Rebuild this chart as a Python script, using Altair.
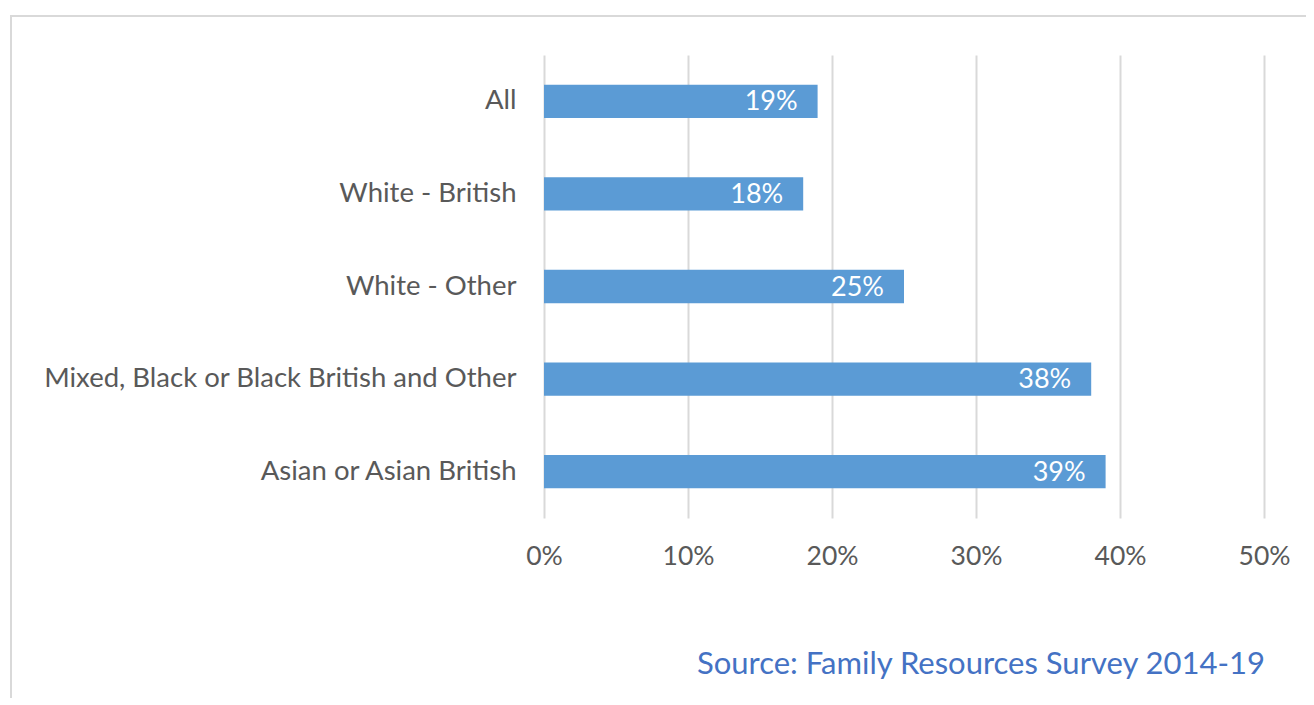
import altair as alt
import pandas as pd

categories = ["All", "White - British", "White - Other",
              "Mixed, Black or Black British and Other", "Asian or Asian British"]
values = [19, 18, 25, 38, 39]
tick_values = [0, 10, 20, 30, 40, 50]
source_text = "Source: Family Resources Survey 2014-19"

df = pd.DataFrame({"group": categories, "value": values,
                   "label": [f"{v}%" for v in values]})

FONT = "Lato"
GREY = "#595959"

y_enc = alt.Y("group:N", sort=categories, title=None,
              scale=alt.Scale(paddingInner=0.64, paddingOuter=0.32),
              axis=alt.Axis(labelFontSize=27.5, labelColor=GREY, labelFont=FONT,
                            labelPadding=28, ticks=False, domain=False,
                            labelFontWeight="normal", labelLimit=600))
x_enc = alt.X("value:Q", title=None,
              scale=alt.Scale(domain=[0, 50]),
              axis=alt.Axis(values=tick_values, labelExpr="datum.value + '%'",
                            labelFontSize=26.5, labelColor=GREY, labelFont=FONT,
                            labelPadding=25, labelFlush=False, ticks=False, domain=False,
                            grid=True, gridColor="#D9D9D9", gridWidth=2))

bars = alt.Chart(df).mark_bar(color="#5B9BD5").encode(x=x_enc, y=y_enc)
labels = alt.Chart(df).mark_text(align="right", baseline="middle", dx=-20, dy=1,
                                 color="white", font=FONT, fontSize=27).encode(
    x="value:Q", y=alt.Y("group:N", sort=categories), text="label:N")

frame = alt.Chart(pd.DataFrame({"a": [0]})).mark_rect(
    fill=None, stroke="#D9D9D9", strokeWidth=2).encode(
    x=alt.value(-533), x2=alt.value(900), y=alt.value(-39), y2=alt.value(900))

source = alt.Chart(pd.DataFrame({"t": [source_text]})).mark_text(
    align="right", baseline="middle", color="#4472C4", font=FONT, fontSize=31).encode(
    x=alt.value(721), y=alt.value(610), text="t:N")

chart = alt.layer(frame, bars, labels, source).properties(
    width=720, height=463,
    autosize=alt.AutoSizeParams(type="none"),
    padding={"left": 536, "top": 47, "right": 42, "bottom": 180},
).configure_view(stroke=None)

chart.save("out.html", embed_options={"renderer": "svg", "actions": False})
